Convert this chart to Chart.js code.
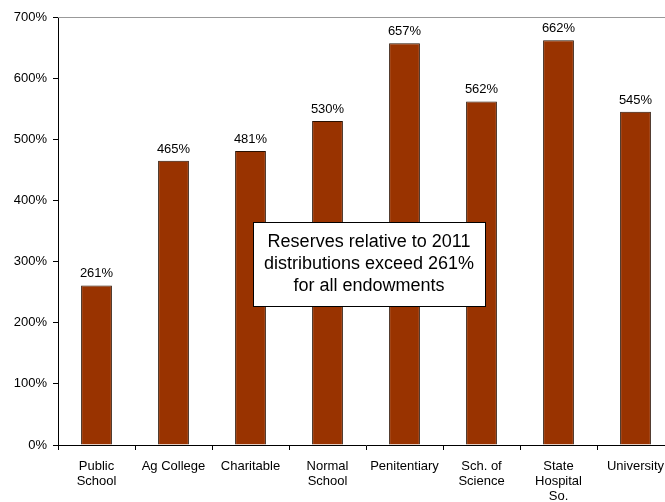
<!DOCTYPE html>
<html>
<head>
<meta charset="utf-8">
<script src="https://cdn.jsdelivr.net/npm/chart.js@4"></script>
<style>
  html, body { margin: 0; padding: 0; background: #fff; overflow: hidden; }
  #wrap { width: 680px; height: 502px; }
</style>
</head>
<body>
<div id="wrap"><canvas id="myChart" width="680" height="502"></canvas></div>
<script>
const labels = [['Public', 'School'], 'Ag College', 'Charitable', ['Normal', 'School'],
    'Penitentiary', ['Sch. of', 'Science'], ['State', 'Hospital', 'So.'], 'University'];
const reserves = [261, 465, 481, 530, 657, 562, 662, 545];
const yTicks = [0, 100, 200, 300, 400, 500, 600, 700];
const note = ['Reserves relative to 2011', 'distributions exceed 261%', 'for all endowments'];

const FONT = 'Liberation Sans, Arial, Helvetica, sans-serif';

// value labels above bars + gray top border + note box
const extras = {
    id: 'extras',
    afterDatasetsDraw(chart) {
        const {ctx, chartArea: {top, left, right}, scales: {x, y}} = chart;
        ctx.save();
        ctx.strokeStyle = '#999';
        ctx.lineWidth = 1;
        ctx.beginPath();
        ctx.moveTo(left, top + 0.5);
        ctx.lineTo(right, top + 0.5);
        ctx.stroke();

        ctx.font = '13px ' + FONT;
        ctx.fillStyle = '#000';
        ctx.textAlign = 'center';
        ctx.textBaseline = 'bottom';
        chart.getDatasetMeta(0).data.forEach((bar, i) => {
            ctx.fillText(reserves[i] + '%', bar.x, bar.y - 5);
        });

        // note box, centred between Normal School and Penitentiary
        const cx = (x.getPixelForValue(3) + x.getPixelForValue(4)) / 2 + 3;
        const cy = y.getPixelForValue(296);
        const w = 232, h = 84;
        ctx.fillStyle = '#fff';
        ctx.fillRect(cx - w / 2, cy - h / 2, w, h);
        ctx.strokeStyle = '#000';
        ctx.strokeRect(Math.round(cx - w / 2) + 0.5, Math.round(cy - h / 2) + 0.5, w, h);
        ctx.fillStyle = '#000';
        ctx.font = '18px ' + FONT;
        ctx.textBaseline = 'middle';
        note.forEach((line, i) => {
            ctx.fillText(line, cx, cy + (i - 1) * 22);
        });
        ctx.restore();
    }
};

const config = {
    type: 'bar',
    data: {
        labels: labels,
        datasets: [{
            data: reserves,
            backgroundColor: '#993300',
            borderColor: '#2a1000',
            borderWidth: 1,
            barPercentage: 0.8,
            categoryPercentage: 0.5
        }]
    },
    options: {
        responsive: false,
        animation: false,
        layout: { padding: { top: 17, right: 6, left: 0, bottom: 0 } },
        scales: {
            y: {
                min: 0,
                max: 700,
                afterBuildTicks: s => { s.ticks = yTicks.map(v => ({ value: v })); },
                afterFit: s => { s.width = 58; },
                border: { color: '#000', width: 1 },
                grid: { drawOnChartArea: false, drawTicks: true, tickLength: 5, color: '#000' },
                ticks: {
                    color: '#000',
                    padding: 6,
                    font: { family: FONT, size: 13 },
                    callback: v => v + '%'
                }
            },
            x: {
                afterFit: s => { s.height = 57; },
                border: { color: '#000', width: 1 },
                grid: { drawOnChartArea: false, drawTicks: true, tickLength: 5, color: '#000', offset: true },
                ticks: {
                    color: '#000',
                    padding: 9,
                    maxRotation: 0,
                    autoSkip: false,
                    font: { family: FONT, size: 13, lineHeight: 1.15 }
                }
            }
        },
        plugins: {
            legend: { display: false },
            tooltip: { enabled: false }
        }
    },
    plugins: [extras]
};

var myChart = new Chart(document.getElementById('myChart'), config);
</script>
</body>
</html>
